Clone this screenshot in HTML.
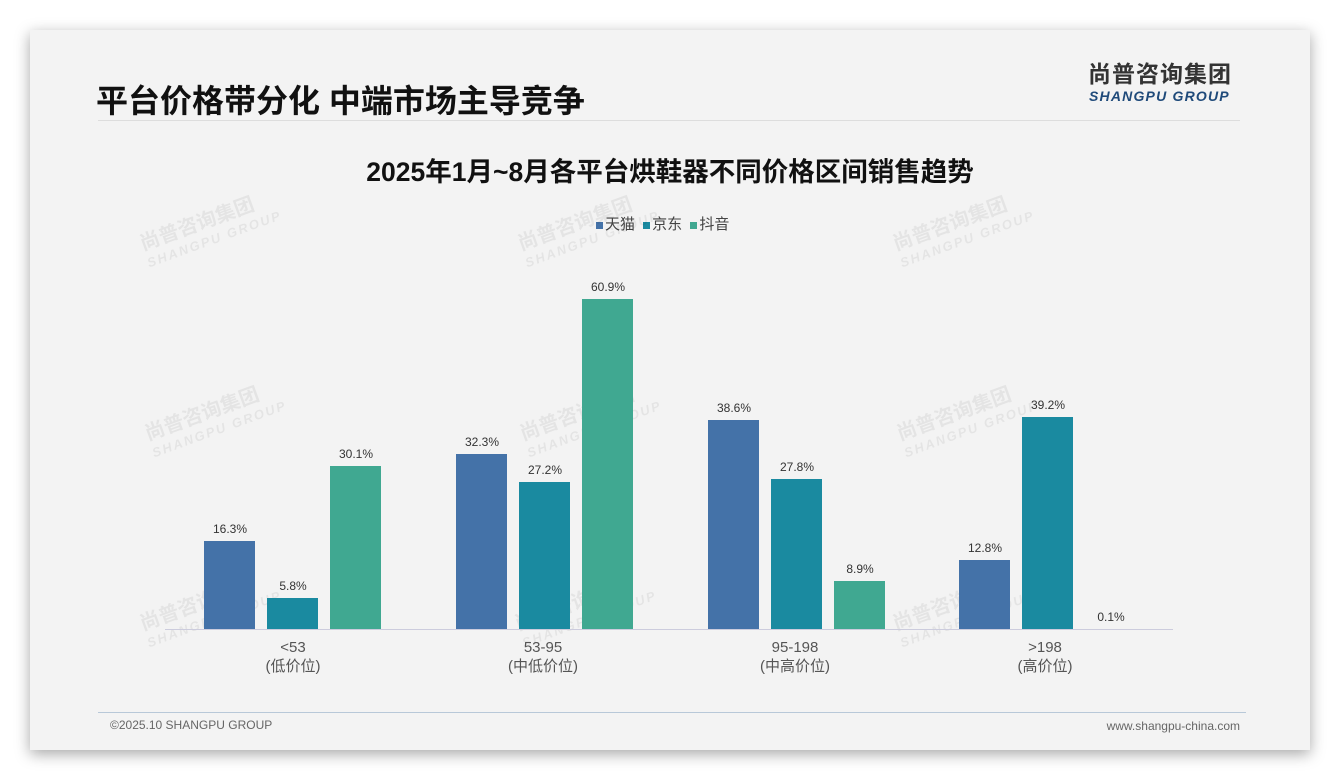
<!DOCTYPE html>
<html><head><meta charset="utf-8"><style>
*{margin:0;padding:0;box-sizing:border-box}
body{width:1340px;height:780px;background:#fff;position:relative;overflow:hidden;font-family:"Liberation Sans","Noto Sans CJK SC",sans-serif}
.card{position:absolute;left:30px;top:30px;width:1280px;height:720px;background:#f3f3f3;box-shadow:0 4px 14px rgba(0,0,0,.35)}
.abs{position:absolute}
.bar{position:absolute;width:51px}
.t{background:#4472a8}.j{background:#1a8aa0}.d{background:#40a891}
.lbl{position:absolute;width:80px;text-align:center;font-size:12px;color:#333}
.cat{position:absolute;width:140px;text-align:center;font-size:15px;color:#555;line-height:19px}
.wm{position:absolute;color:rgba(0,0,0,0.06);font-weight:bold;transform:rotate(-20deg);font-size:20px;line-height:20px;white-space:nowrap}
.wm span{display:block;font-size:13px;letter-spacing:2px;font-style:italic}
</style></head><body>
<div class="card"></div>
<div class="abs" style="left:96px;top:76px;font-size:32px;font-weight:bold;color:#111;white-space:nowrap">平台价格带分化 中端市场主导竞争</div>
<div class="abs" style="left:1088px;top:60px;font-size:23px;line-height:28px;font-weight:bold;color:#333;letter-spacing:1px;white-space:nowrap">尚普咨询集团</div>
<div class="abs" style="left:1089px;top:88px;font-size:14px;line-height:16px;font-weight:bold;font-style:italic;color:#1f4a7a;letter-spacing:1.2px;white-space:nowrap">SHANGPU GROUP</div>
<div class="abs" style="left:98px;top:120px;width:1142px;height:1px;background:#ddd"></div>
<div class="abs" style="left:0;width:1340px;top:150px;text-align:center;font-size:26.5px;font-weight:bold;color:#111;white-space:nowrap">2025年1月~8月各平台烘鞋器不同价格区间销售趋势</div>
<div class="abs" style="left:596px;top:213px;font-size:15px;color:#444;white-space:nowrap"><span style="display:inline-block;width:7px;height:7px;background:#4472a8;margin-right:2px"></span>天猫 <span style="display:inline-block;width:7px;height:7px;background:#1a8aa0;margin:0 2px 0 4px"></span>京东 <span style="display:inline-block;width:7px;height:7px;background:#40a891;margin:0 2px 0 4px"></span>抖音</div>

<div class="wm" style="left:140px;top:210px">尚普咨询集团<span>SHANGPU GROUP</span></div>
<div class="wm" style="left:518px;top:210px">尚普咨询集团<span>SHANGPU GROUP</span></div>
<div class="wm" style="left:893px;top:210px">尚普咨询集团<span>SHANGPU GROUP</span></div>
<div class="wm" style="left:145px;top:400px">尚普咨询集团<span>SHANGPU GROUP</span></div>
<div class="wm" style="left:520px;top:400px">尚普咨询集团<span>SHANGPU GROUP</span></div>
<div class="wm" style="left:897px;top:400px">尚普咨询集团<span>SHANGPU GROUP</span></div>
<div class="wm" style="left:140px;top:590px">尚普咨询集团<span>SHANGPU GROUP</span></div>
<div class="wm" style="left:515px;top:590px">尚普咨询集团<span>SHANGPU GROUP</span></div>
<div class="wm" style="left:893px;top:590px">尚普咨询集团<span>SHANGPU GROUP</span></div>

<div class="abs" style="left:165px;top:629px;width:1008px;height:1px;background:#ccd"></div>

<div class="bar t" style="left:204px;top:541px;height:88px"></div><div class="lbl" style="left:190px;top:522px">16.3%</div>
<div class="bar j" style="left:267px;top:598px;height:31px"></div><div class="lbl" style="left:253px;top:579px">5.8%</div>
<div class="bar d" style="left:330px;top:466px;height:163px"></div><div class="lbl" style="left:316px;top:447px">30.1%</div>

<div class="bar t" style="left:456px;top:454px;height:175px"></div><div class="lbl" style="left:442px;top:435px">32.3%</div>
<div class="bar j" style="left:519px;top:482px;height:147px"></div><div class="lbl" style="left:505px;top:463px">27.2%</div>
<div class="bar d" style="left:582px;top:299px;height:330px"></div><div class="lbl" style="left:568px;top:280px">60.9%</div>

<div class="bar t" style="left:708px;top:420px;height:209px"></div><div class="lbl" style="left:694px;top:401px">38.6%</div>
<div class="bar j" style="left:771px;top:479px;height:150px"></div><div class="lbl" style="left:757px;top:460px">27.8%</div>
<div class="bar d" style="left:834px;top:581px;height:48px"></div><div class="lbl" style="left:820px;top:562px">8.9%</div>

<div class="bar t" style="left:959px;top:560px;height:69px"></div><div class="lbl" style="left:945px;top:541px">12.8%</div>
<div class="bar j" style="left:1022px;top:417px;height:212px"></div><div class="lbl" style="left:1008px;top:398px">39.2%</div>
<div class="lbl" style="left:1071px;top:610px">0.1%</div>

<div class="cat" style="left:223px;top:638px">&lt;53<br>(低价位)</div>
<div class="cat" style="left:473px;top:638px">53-95<br>(中低价位)</div>
<div class="cat" style="left:725px;top:638px">95-198<br>(中高价位)</div>
<div class="cat" style="left:975px;top:638px">&gt;198<br>(高价位)</div>

<div class="abs" style="left:98px;top:712px;width:1148px;height:1px;background:#b8c8d8"></div>
<div class="abs" style="left:110px;top:718px;font-size:12px;color:#666">©2025.10 SHANGPU GROUP</div>
<div class="abs" style="left:1092px;top:719px;width:148px;text-align:right;font-size:12px;color:#666;white-space:nowrap">www.shangpu-china.com</div>
</body></html>
